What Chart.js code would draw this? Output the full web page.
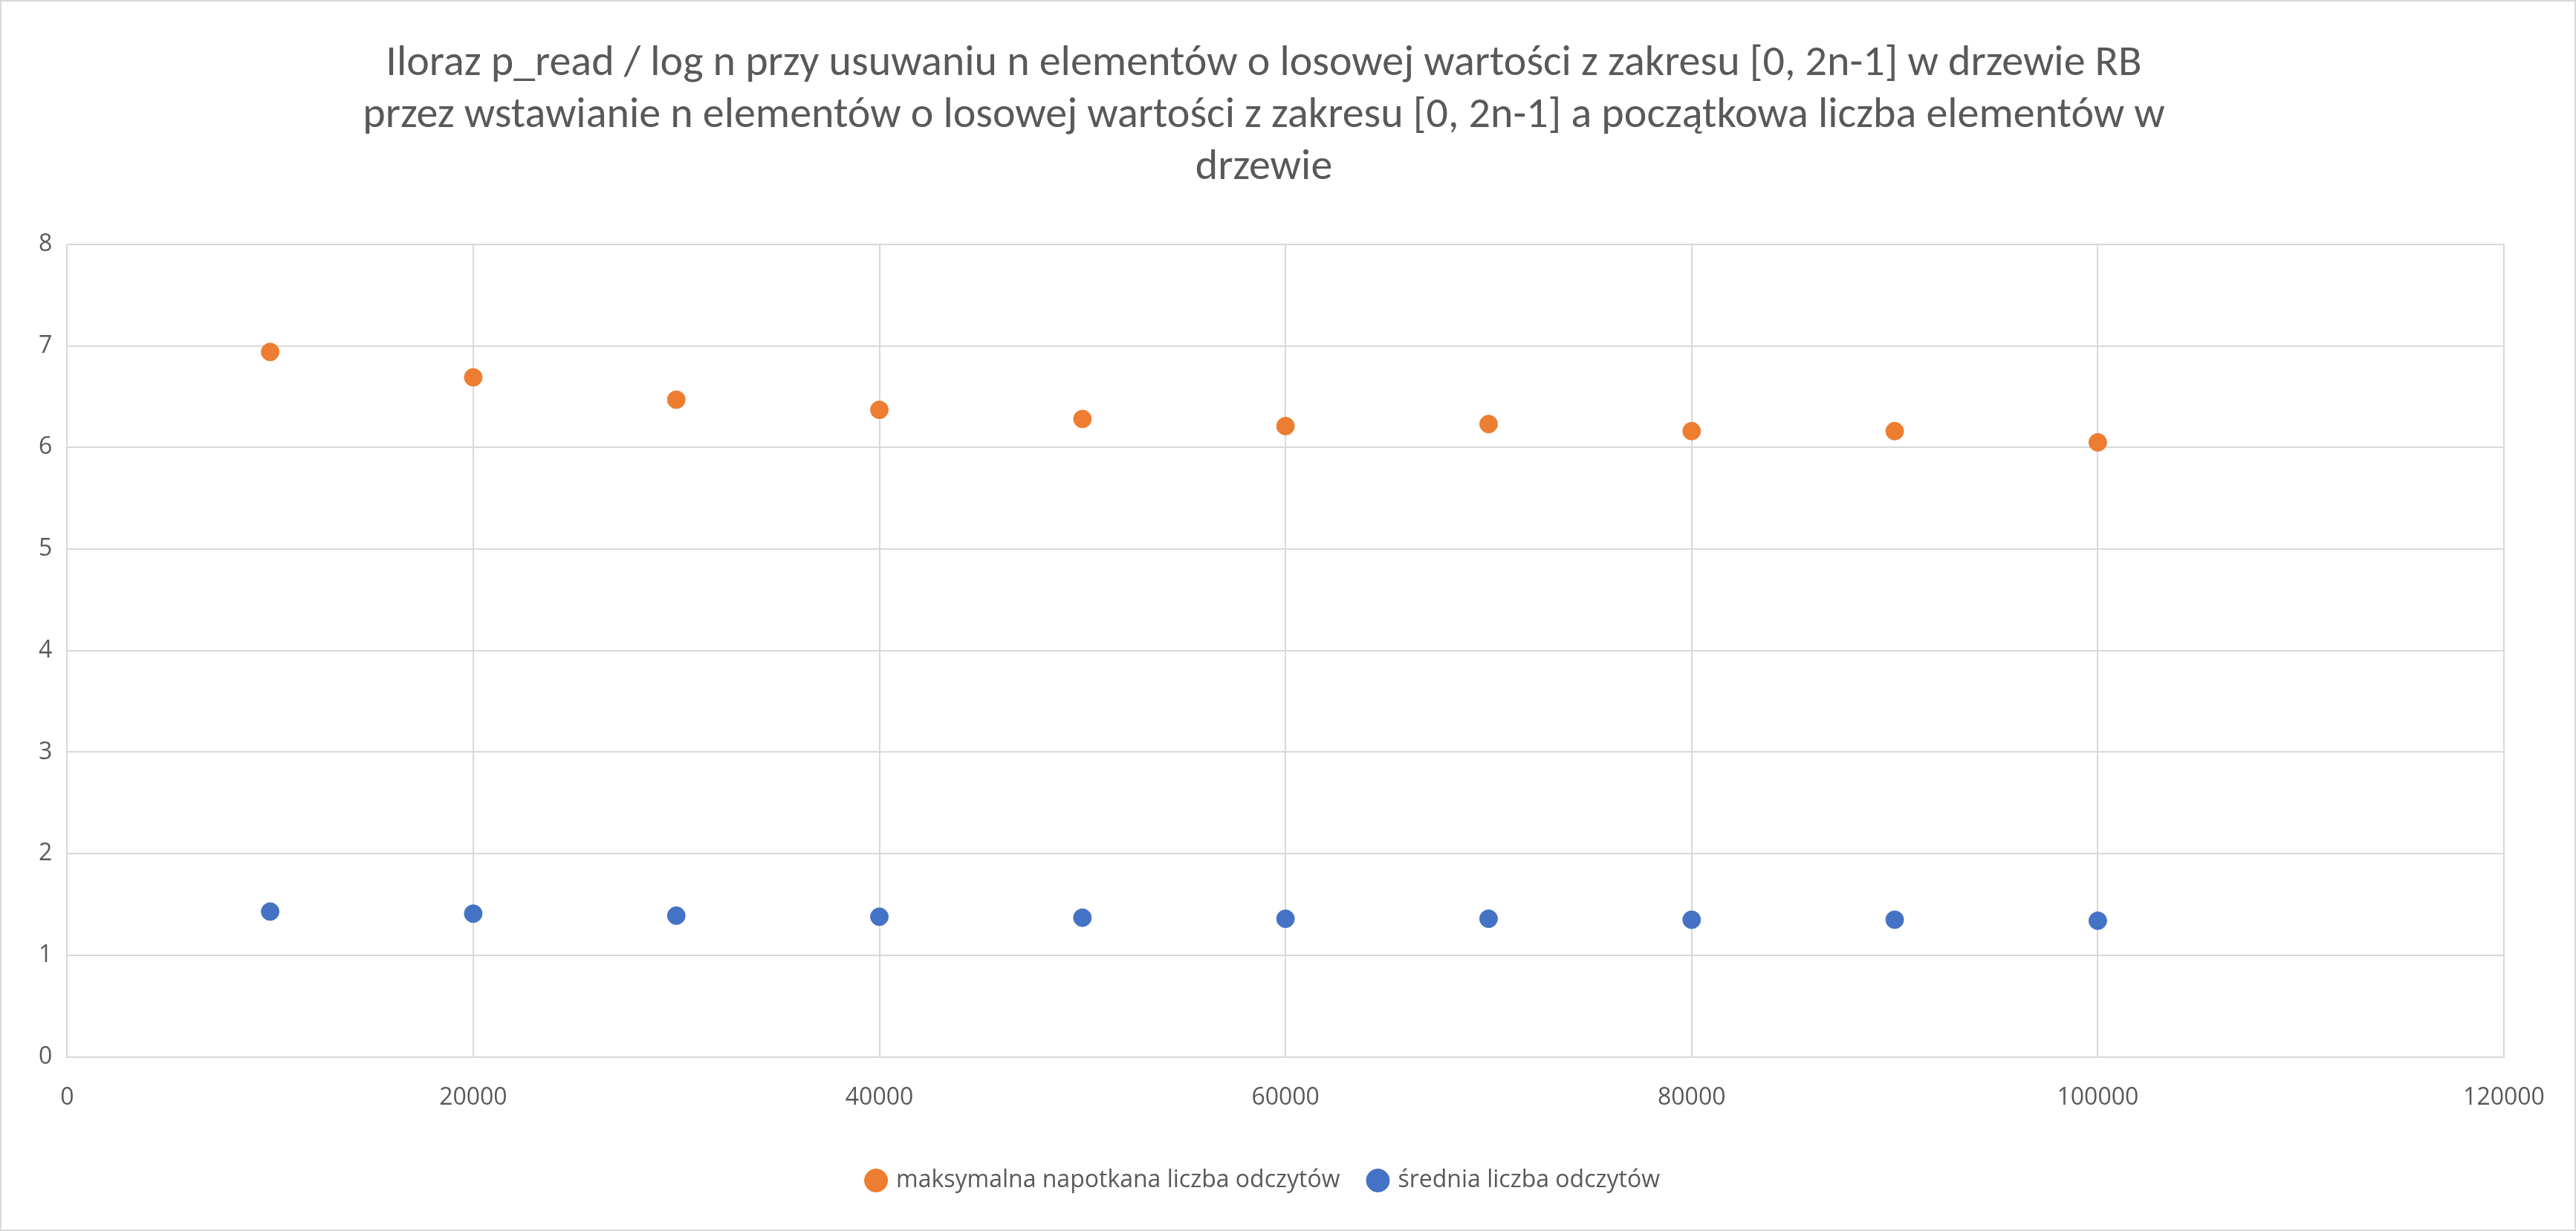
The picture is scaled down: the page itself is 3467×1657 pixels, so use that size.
<!DOCTYPE html>
<html>
<head>
<meta charset="utf-8">
<script src="https://cdn.jsdelivr.net/npm/chart.js@4/dist/chart.umd.min.js"></script>
<style>
  html, body { margin: 0; padding: 0; background: #fff; }
  #wrap { width: 3467px; height: 1657px; box-sizing: border-box; border: 2px solid #d9d9d9; }
</style>
</head>
<body>
<div id="wrap"><canvas id="chart" width="3463" height="1653"></canvas></div>
<script>
const nValues = [10000, 20000, 30000, 40000, 50000, 60000, 70000, 80000, 90000, 100000];
const maxReads = [6.94, 6.69, 6.47, 6.37, 6.28, 6.21, 6.23, 6.16, 6.16, 6.05];
const avgReads = [1.43, 1.41, 1.39, 1.38, 1.37, 1.36, 1.36, 1.35, 1.35, 1.34];

const titleLines = [
  'Iloraz p_read / log n przy usuwaniu n elementów o losowej wartości z zakresu [0, 2n-1] w drzewie RB',
  'przez wstawianie n elementów o losowej wartości z zakresu [0, 2n-1] a początkowa liczba elementów w',
  'drzewie'
];

const toPoints = ys => nValues.map((x, i) => ({ x: x, y: ys[i] }));

new Chart(document.getElementById('chart'), {
  type: 'scatter',
  data: {
    datasets: [
      { label: 'maksymalna napotkana liczba odczytów', data: toPoints(maxReads),
        backgroundColor: '#ED7D31', borderColor: '#ED7D31', pointRadius: 12 },
      { label: 'średnia liczba odczytów', data: toPoints(avgReads),
        backgroundColor: '#4472C4', borderColor: '#4472C4', pointRadius: 12 }
    ]
  },
  options: {
    responsive: false,
    animation: false,
    layout: { padding: { left: 30, right: 95, top: 30, bottom: 40 } },
    plugins: {
      title: {
        display: true, text: titleLines, color: '#595959',
        font: { family: 'Calibri, Carlito, "Open Sans", sans-serif', size: 58, weight: 'normal' },
        padding: { top: 20, bottom: 68 }, lineHeight: 1.2
      },
      legend: {
        position: 'bottom',
        labels: {
          usePointStyle: true, pointStyle: 'circle', boxWidth: 22, boxHeight: 22, padding: 40,
          color: '#595959', font: { family: '"Open Sans", sans-serif', size: 32 }
        }
      },
      tooltip: { enabled: false }
    },
    scales: {
      x: {
        type: 'linear', min: 0, max: 120000,
        ticks: { stepSize: 20000, color: '#595959', padding: 36,
                 callback: v => String(v),
                 font: { family: '"Open Sans", sans-serif', size: 32 } },
        grid: { color: '#d9d9d9', lineWidth: 2, drawTicks: false },
        border: { color: '#d9d9d9', width: 2 }
      },
      y: {
        min: 0, max: 8,
        ticks: { stepSize: 1, color: '#595959', padding: 20,
                 font: { family: '"Open Sans", sans-serif', size: 32 } },
        grid: { color: '#d9d9d9', lineWidth: 2, drawTicks: false },
        border: { display: false }
      }
    }
  }
});
</script>
</body>
</html>
